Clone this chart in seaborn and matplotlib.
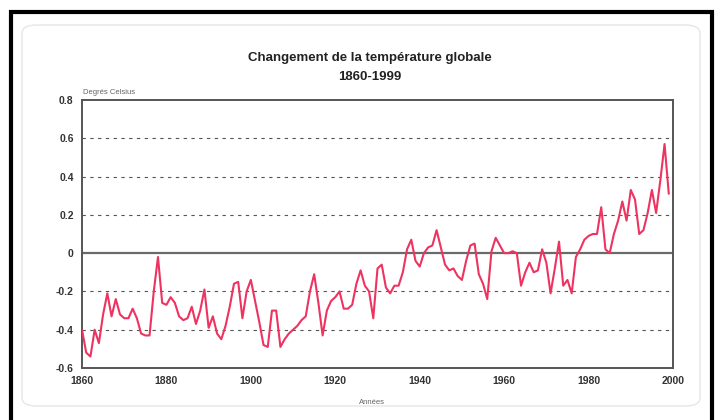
import numpy as np
import pandas as pd
import matplotlib
matplotlib.use("Agg")
import matplotlib.pyplot as plt
from matplotlib.patches import Rectangle, FancyBboxPatch
import seaborn as sns

# ==============================
# DATA
# ==============================
years = list(range(1860, 2000))
anomalies = [
    -0.40, -0.52, -0.54, -0.40, -0.47, -0.32, -0.21, -0.33, -0.24, -0.32,  # 1860s
    -0.34, -0.34, -0.29, -0.34, -0.42, -0.43, -0.43, -0.20, -0.02, -0.26,  # 1870s
    -0.27, -0.23, -0.26, -0.33, -0.35, -0.34, -0.28, -0.37, -0.30, -0.19,  # 1880s
    -0.39, -0.33, -0.42, -0.45, -0.38, -0.28, -0.16, -0.15, -0.34, -0.20,  # 1890s
    -0.14, -0.25, -0.36, -0.48, -0.49, -0.30, -0.30, -0.49, -0.45, -0.42,  # 1900s
    -0.40, -0.38, -0.35, -0.33, -0.20, -0.11, -0.26, -0.43, -0.30, -0.25,  # 1910s
    -0.23, -0.20, -0.29, -0.29, -0.27, -0.16, -0.09, -0.17, -0.20, -0.34,  # 1920s
    -0.08, -0.06, -0.18, -0.21, -0.17, -0.17, -0.10, 0.02, 0.07, -0.04,    # 1930s
    -0.07, 0.00, 0.03, 0.04, 0.12, 0.03, -0.06, -0.09, -0.08, -0.12,      # 1940s
    -0.14, -0.04, 0.04, 0.05, -0.11, -0.16, -0.24, 0.01, 0.08, 0.04,      # 1950s
    0.00, 0.00, 0.01, 0.00, -0.17, -0.10, -0.05, -0.10, -0.09, 0.02,      # 1960s
    -0.05, -0.21, -0.08, 0.06, -0.17, -0.14, -0.21, -0.02, 0.02, 0.07,    # 1970s
    0.09, 0.10, 0.10, 0.24, 0.02, 0.00, 0.10, 0.17, 0.27, 0.17,           # 1980s
    0.33, 0.28, 0.10, 0.12, 0.21, 0.33, 0.21, 0.38, 0.57, 0.31,           # 1990s
]
x_ticks = [1860, 1880, 1900, 1920, 1940, 1960, 1980, 2000]
y_ticks = [0.8, 0.6, 0.4, 0.2, 0, -0.2, -0.4, -0.6]
y_tick_labels = ["0.8", "0.6", "0.4", "0.2", "0", "-0.2", "-0.4", "-0.6"]

df = pd.DataFrame({"year": years, "anomaly": anomalies})

# ==============================
# PLOT
# ==============================
sns.set_style("white")
plt.rcParams["font.family"] = ["Liberation Sans", "DejaVu Sans"]

W, H = 721, 420
fig = plt.figure(figsize=(W / 100, H / 100), dpi=100)
ax = fig.add_axes([82 / W, 1 - 368 / H, (673 - 82) / W, (368 - 100) / H])

# outer frame + faint chart area
fig.patches.append(Rectangle((11 / W, -0.05), (712 - 11) / W, 1.05 - 12 / H,
                             transform=fig.transFigure, fill=False,
                             edgecolor="black", linewidth=3, zorder=0))
fig.patches.append(FancyBboxPatch((22 / W, 14 / H), (700 - 22) / W, (395 - 14) / H,
                                  boxstyle="round,pad=0,rounding_size=0.02",
                                  transform=fig.transFigure, fill=False,
                                  edgecolor="#e6e6e6", linewidth=1, zorder=0))

# grid lines
for v in [0.6, 0.4, 0.2, -0.2, -0.4]:
    ax.axhline(v, color="#555555", linestyle=(0, (3, 4)), linewidth=0.8, zorder=1)
ax.axhline(0, color="#6a6a6a", linewidth=1.6, zorder=1)

sns.lineplot(data=df, x="year", y="anomaly", ax=ax, color="#ee3360",
             linewidth=1.5, zorder=3)

ax.set_xlim(1860, 2000)
ax.set_ylim(-0.6, 0.8)
ax.set_xticks(x_ticks)
ax.set_yticks(y_ticks)
ax.set_yticklabels(y_tick_labels)
ax.tick_params(axis="both", length=0, labelsize=7.5, labelcolor="#333333", pad=6)
for lbl in ax.get_xticklabels() + ax.get_yticklabels():
    lbl.set_fontweight("bold")
ax.set_xlabel("")
ax.set_ylabel("")
for s in ax.spines.values():
    s.set_color("#555555")
    s.set_linewidth(1.4)

fig.text(370 / W, 1 - 58 / H, "Changement de la température globale",
         ha="center", va="center", fontsize=9.5, fontweight="bold", color="#222222")
fig.text(370 / W, 1 - 77 / H, "1860-1999",
         ha="center", va="center", fontsize=9.5, fontweight="bold", color="#222222")
fig.text(83 / W, 1 - 93 / H, "Degrés Celsius", ha="left", va="center",
         fontsize=5.5, color="#666666")
fig.text(372 / W, 1 - 403 / H, "Années", ha="center", va="center",
         fontsize=5.5, color="#666666")

plt.savefig("out.png", dpi=100)
